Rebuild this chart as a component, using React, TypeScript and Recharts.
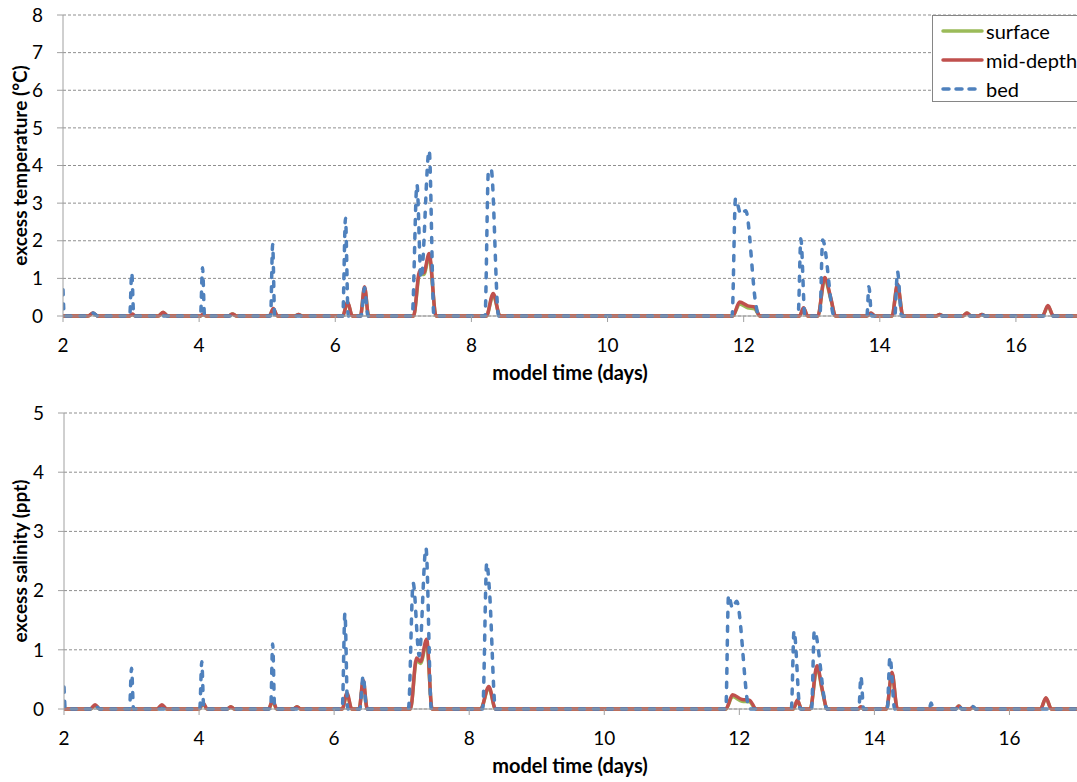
import { Label, Line, LineChart, CartesianGrid, XAxis, YAxis } from "recharts";

type Pt = [number, number];

// excess temperature (°C) vs model time (days)
const tempSurface: Pt[] = [
  [2, 0], [2.37, 0], [2.44, 0.07], [2.51, 0], [2.98, 0], [3.02, 0.04], [3.06, 0], [3.4, 0], [3.47, 0.09], [3.54, 0],
  [4.02, 0], [4.06, 0.04], [4.1, 0], [4.43, 0], [4.49, 0.05], [4.55, 0], [5.03, 0], [5.09, 0.18], [5.15, 0],
  [5.41, 0], [5.46, 0.04], [5.51, 0], [6.11, 0], [6.18, 0.36], [6.25, 0], [6.37, 0], [6.43, 0.74], [6.49, 0],
  [7.15, 0], [7.24, 1.12], [7.3, 1.1], [7.38, 1.58], [7.48, 0], [8.22, 0], [8.32, 0.56], [8.42, 0],
  [11.84, 0], [11.94, 0.32], [12.06, 0.22], [12.16, 0.19], [12.24, 0], [12.82, 0], [12.88, 0.2], [12.94, 0],
  [13.09, 0], [13.19, 0.98], [13.28, 0.45], [13.35, 0], [13.81, 0], [13.87, 0.07], [13.93, 0],
  [14.18, 0], [14.26, 0.82], [14.34, 0], [14.83, 0], [14.88, 0.04], [14.93, 0], [15.22, 0], [15.28, 0.08], [15.34, 0],
  [15.45, 0], [15.5, 0.04], [15.55, 0], [16.39, 0], [16.47, 0.26], [16.55, 0], [17, 0],
];
const tempMid: Pt[] = [
  [2, 0], [2.37, 0], [2.44, 0.08], [2.51, 0], [2.98, 0], [3.02, 0.05], [3.06, 0], [3.4, 0], [3.47, 0.1], [3.54, 0],
  [4.02, 0], [4.06, 0.05], [4.1, 0], [4.43, 0], [4.49, 0.05], [4.55, 0], [5.03, 0], [5.09, 0.2], [5.15, 0],
  [5.41, 0], [5.46, 0.04], [5.51, 0], [6.11, 0], [6.18, 0.38], [6.25, 0], [6.37, 0], [6.43, 0.78], [6.49, 0],
  [7.15, 0], [7.24, 1.2], [7.3, 1.15], [7.38, 1.66], [7.48, 0], [8.22, 0], [8.32, 0.6], [8.42, 0],
  [11.84, 0], [11.94, 0.37], [12.06, 0.27], [12.16, 0.24], [12.24, 0], [12.82, 0], [12.88, 0.22], [12.94, 0],
  [13.09, 0], [13.19, 1.02], [13.28, 0.48], [13.35, 0], [13.81, 0], [13.87, 0.08], [13.93, 0],
  [14.18, 0], [14.26, 0.85], [14.34, 0], [14.83, 0], [14.88, 0.04], [14.93, 0], [15.22, 0], [15.28, 0.08], [15.34, 0],
  [15.45, 0], [15.5, 0.04], [15.55, 0], [16.39, 0], [16.47, 0.28], [16.55, 0], [17, 0],
];
const tempBed: Pt[] = [
  [2, 0.7], [2.02, 0], [2.37, 0], [2.44, 0.08], [2.51, 0], [2.98, 0], [3.01, 1.15], [3.04, 0],
  [4.02, 0], [4.05, 1.28], [4.08, 0], [5.05, 0], [5.08, 1.9], [5.11, 0], [6.11, 0], [6.15, 2.6], [6.19, 0],
  [6.38, 0], [6.43, 0.75], [6.48, 0], [7.13, 0], [7.2, 3.5], [7.26, 1.0], [7.38, 4.4], [7.45, 0],
  [8.2, 0], [8.25, 3.85], [8.29, 3.9], [8.4, 0], [11.83, 0], [11.88, 3.12], [11.96, 2.7], [12.03, 2.8],
  [12.18, 0.3], [12.22, 0], [12.8, 0], [12.84, 2.05], [12.9, 0], [13.12, 0], [13.16, 2.02], [13.33, 0],
  [13.81, 0], [13.84, 0.78], [13.88, 0], [14.22, 0], [14.26, 1.18], [14.32, 0], [15.46, 0], [15.5, 0.04], [15.54, 0], [17, 0],
];

// excess salinity (ppt) vs model time (days)
const salSurface: Pt[] = [
  [2, 0], [2.39, 0], [2.46, 0.06], [2.53, 0], [3.38, 0], [3.45, 0.06], [3.52, 0], [4.0, 0], [4.06, 0.09], [4.12, 0],
  [4.42, 0], [4.47, 0.04], [4.52, 0], [5.03, 0], [5.09, 0.13], [5.15, 0], [5.4, 0], [5.45, 0.04], [5.5, 0],
  [6.12, 0], [6.19, 0.25], [6.26, 0], [6.37, 0], [6.43, 0.46], [6.49, 0], [7.13, 0], [7.22, 0.82], [7.28, 0.77],
  [7.37, 1.12], [7.45, 0], [8.17, 0], [8.29, 0.36], [8.39, 0], [11.8, 0], [11.9, 0.21], [12.04, 0.13],
  [12.15, 0.12], [12.25, 0], [12.8, 0], [12.86, 0.14], [12.92, 0], [13.05, 0], [13.15, 0.7], [13.23, 0.3],
  [13.3, 0], [13.76, 0], [13.8, 0.04], [13.84, 0], [14.18, 0], [14.26, 0.6], [14.34, 0], [15.2, 0], [15.25, 0.05],
  [15.3, 0], [15.42, 0], [15.46, 0.03], [15.5, 0], [16.46, 0], [16.54, 0.18], [16.62, 0], [17, 0],
];
const salMid: Pt[] = [
  [2, 0], [2.39, 0], [2.46, 0.07], [2.53, 0], [3.38, 0], [3.45, 0.07], [3.52, 0], [4.0, 0], [4.06, 0.1], [4.12, 0],
  [4.42, 0], [4.47, 0.04], [4.52, 0], [5.03, 0], [5.09, 0.15], [5.15, 0], [5.4, 0], [5.45, 0.04], [5.5, 0],
  [6.12, 0], [6.19, 0.27], [6.26, 0], [6.37, 0], [6.43, 0.49], [6.49, 0], [7.13, 0], [7.22, 0.86], [7.28, 0.8],
  [7.37, 1.18], [7.45, 0], [8.17, 0], [8.29, 0.38], [8.39, 0], [11.8, 0], [11.9, 0.24], [12.04, 0.16],
  [12.15, 0.15], [12.25, 0], [12.8, 0], [12.86, 0.15], [12.92, 0], [13.05, 0], [13.15, 0.73], [13.23, 0.32],
  [13.3, 0], [13.76, 0], [13.8, 0.04], [13.84, 0], [14.18, 0], [14.26, 0.62], [14.34, 0], [15.2, 0], [15.25, 0.05],
  [15.3, 0], [15.42, 0], [15.46, 0.03], [15.5, 0], [16.46, 0], [16.54, 0.19], [16.62, 0], [17, 0],
];
const salBed: Pt[] = [
  [2, 0.37], [2.02, 0], [2.39, 0], [2.46, 0.06], [2.53, 0], [2.97, 0], [3.0, 0.69], [3.03, 0],
  [4.01, 0], [4.04, 0.8], [4.07, 0], [5.06, 0], [5.09, 1.1], [5.12, 0], [6.12, 0], [6.16, 1.62], [6.2, 0],
  [6.38, 0], [6.43, 0.56], [6.48, 0], [7.1, 0], [7.17, 2.13], [7.26, 0.9], [7.36, 2.72], [7.44, 0],
  [8.2, 0], [8.26, 2.47], [8.3, 2.0], [8.39, 0], [11.8, 0], [11.84, 1.92], [11.9, 1.7], [11.96, 1.82], [12.15, 0],
  [12.77, 0], [12.81, 1.32], [12.9, 0], [13.07, 0], [13.11, 1.32], [13.3, 0], [13.77, 0], [13.8, 0.55], [13.84, 0],
  [14.19, 0], [14.23, 0.88], [14.3, 0], [14.81, 0], [14.84, 0.1], [14.87, 0], [15.21, 0], [15.25, 0.08], [15.29, 0],
  [15.42, 0], [15.46, 0.04], [15.5, 0], [17, 0],
];

const xTicks = [2, 4, 6, 8, 10, 12, 14, 16];
const tempTicks = [0, 1, 2, 3, 4, 5, 6, 7, 8];
const salTicks = [0, 1, 2, 3, 4, 5];
const seriesNames = ["surface", "mid-depth", "bed"];

const GREEN = "#9BBB59";
const RED = "#C0504D";
const BLUE = "#4F81BD";
const AXIS = "#A0A0A0";
const FONT = "Lato, 'Open Sans', sans-serif";

const toRows = (pts: Pt[]) => pts.map(([t, v]) => ({ t, v }));

// legend box sits over the top panel, like the spreadsheet one
const LegendBox = () => {
  const colors = [GREEN, RED, BLUE];
  return (
    <div style={{ position: "absolute", left: 932, top: 15, width: 170, height: 85, border: "1px solid #868686", background: "#fff", fontFamily: FONT, fontSize: 20, color: "#000" }}>
      {seriesNames.map((name, i) => (
        <div key={name} style={{ height: 29, display: "flex", alignItems: "center" }}>
          <svg width={52} height={10}>
            <line
              x1={10} x2={49} y1={5} y2={5}
              stroke={colors[i]} strokeWidth={3.5} strokeLinecap="round"
              strokeDasharray={i === 2 ? "6 7" : undefined}
            />
          </svg>
          <span style={{ marginLeft: 1, lineHeight: 1 }}>{name}</span>
        </div>
      ))}
    </div>
  );
};

const yTitle = (text: string) => (props: any) => {
  const vb = props.viewBox;
  const cx = 19;
  const cy = vb.y + vb.height / 2;
  return (
    <text x={cx} y={cy} transform={`rotate(-90 ${cx} ${cy})`} textAnchor="middle" dominantBaseline="central"
      fontFamily={FONT} fontSize={19} fontWeight={700} fill="#000">
      {text}
    </text>
  );
};

const xTitle = (props: any) => {
  const vb = props.viewBox;
  return (
    <text x={570} y={vb.y + 63.5} textAnchor="middle" fontFamily={FONT} fontSize={20} fontWeight={700} fill="#000">
      model time (days)
    </text>
  );
};

type PanelProps = {
  surface: Pt[];
  mid: Pt[];
  bed: Pt[];
  yMax: number;
  yTicks: number[];
  title: string;
  height: number;
  top: number;
  bottom: number;
  axisWidth: number;
  right: number;
};

const Panel = ({ surface, mid, bed, yMax, yTicks, title, height, top, bottom, axisWidth, right }: PanelProps) => (
  <LineChart width={1100} height={height} margin={{ top, right, bottom, left: 0 }}>
    <CartesianGrid vertical={false} stroke="#8f8f8f" strokeDasharray="3 2" />
    <XAxis
      type="number" dataKey="t" domain={[2, 17]} ticks={xTicks} allowDataOverflow
      height={70} tickSize={6} tickMargin={17} stroke={AXIS}
      tick={{ fill: "#000", fontSize: 19, fontFamily: FONT }}
    >
      <Label content={xTitle} />
    </XAxis>
    <YAxis
      type="number" domain={[0, yMax]} ticks={yTicks} width={axisWidth}
      tickSize={6} tickMargin={14} stroke={AXIS}
      tick={{ fill: "#000", fontSize: 19, fontFamily: FONT }}
    >
      <Label content={yTitle(title)} />
    </YAxis>
    <Line data={toRows(surface)} dataKey="v" name="surface" type="monotone" stroke={GREEN} strokeWidth={3.5} dot={false} isAnimationActive={false} />
    <Line data={toRows(mid)} dataKey="v" name="mid-depth" type="monotone" stroke={RED} strokeWidth={3.5} dot={false} isAnimationActive={false} />
    <Line data={toRows(bed)} dataKey="v" name="bed" type="monotone" stroke={BLUE} strokeWidth={3.5} strokeDasharray="5 9" strokeLinecap="round" dot={false} isAnimationActive={false} />
  </LineChart>
);

export default function App() {
  return (
    <div style={{ position: "absolute", left: 0, top: 0, width: 1077, height: 782, overflow: "hidden", background: "#fff" }}>
      <Panel surface={tempSurface} mid={tempMid} bed={tempBed} yMax={8} yTicks={tempTicks}
        title="excess temperature (°C)" height={392} top={15} bottom={6} axisWidth={63} right={16} />
      <Panel surface={salSurface} mid={salMid} bed={salBed} yMax={5} yTicks={salTicks}
        title="excess salinity (ppt)" height={390} top={21} bottom={3} axisWidth={64} right={23} />
      <LegendBox />
    </div>
  );
}
